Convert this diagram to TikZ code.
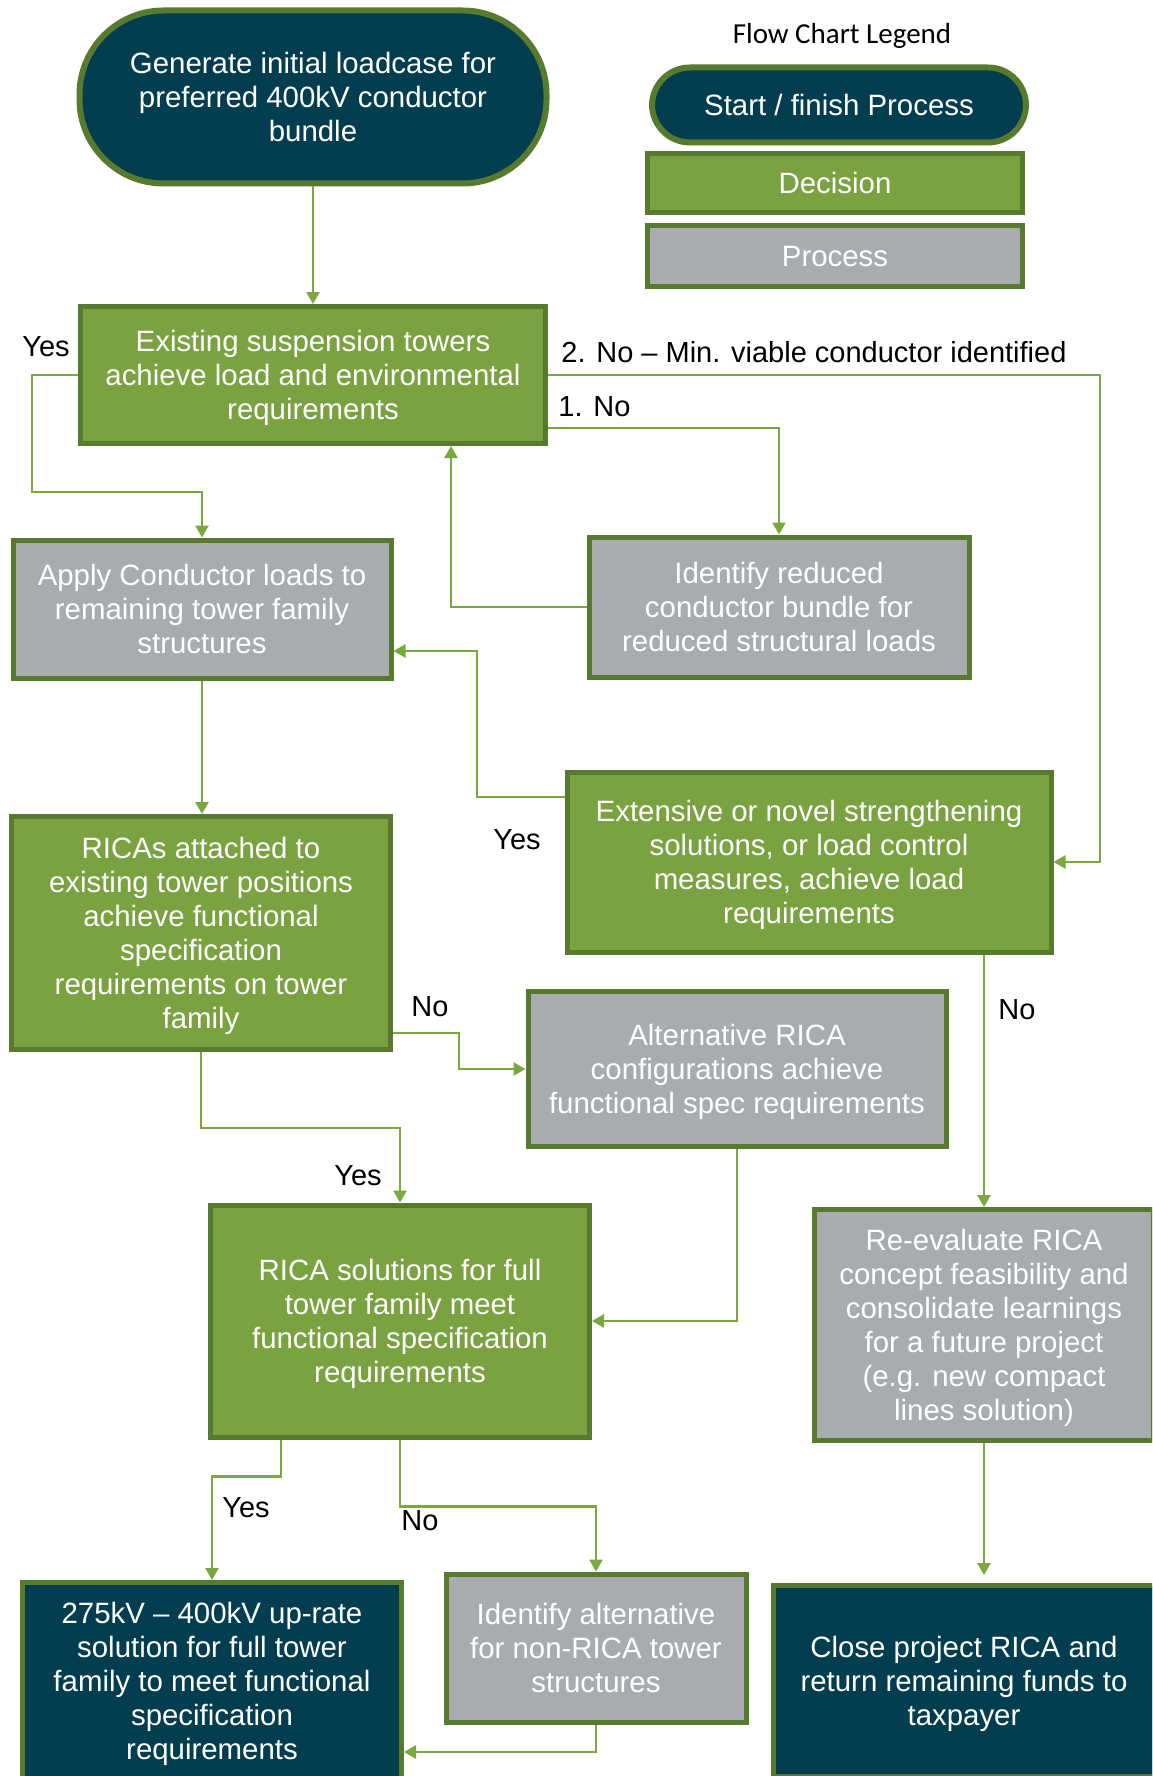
\documentclass[tikz,border=0pt]{standalone}
\usepackage{fontspec}
\setmainfont{Liberation Sans}
\newfontfamily\calibri{Carlito}
\usetikzlibrary{arrows.meta}
\definecolor{navy}{RGB}{3,62,80}
\definecolor{dgreen}{RGB}{122,162,64}
\definecolor{bgreen}{RGB}{88,122,46}
\definecolor{pgray}{RGB}{168,171,175}
\definecolor{lgreen}{RGB}{120,168,62}
\newcommand{\lnstrut}{\rule[-3.1pt]{0pt}{16.4pt}}
\begin{document}
\begin{tikzpicture}[x=0.5pt,y=-0.5pt,
  base/.style={draw=bgreen, line width=2.5pt, text=white, align=center, inner sep=0pt, font=\fontsize{14.7}{17}\selectfont},
  term/.style={base, fill=navy},
  dec/.style={base, fill=dgreen},
  proc/.style={base, fill=pgray},
  arr/.style={draw=lgreen, line width=1.2pt, -{Triangle[length=6pt,width=6.5pt]}},
  lbl/.style={font=\fontsize{14.5}{17}\selectfont, inner sep=0pt, text=black}
]
\useasboundingbox (0,0) rectangle (1152,1776);
\clip (0,0) rectangle (1152,1776);
\fill[white] (0,0) rectangle (1152,1776);

% legend
\node[font=\calibri\fontsize{14.5}{17}\selectfont, inner sep=0pt] (legtitle) at (842,36) {Flow Chart Legend};
\node[term, line width=3pt, rounded corners=19pt, minimum width=187pt, minimum height=37.5pt] (legterm) at (839,105) {\lnstrut Start / finish Process\lnstrut};
\node[dec, minimum width=187.5pt, minimum height=29.5pt] (legdec) at (835,183) {\lnstrut Decision\lnstrut};
\node[proc, minimum width=187.5pt, minimum height=30pt] (legproc) at (835,256) {\lnstrut Process\lnstrut};

% nodes
\node[term, line width=3pt, rounded corners=42pt, minimum width=233.5pt, minimum height=86.5pt] (start) at (313,97)
  {\lnstrut Generate initial loadcase for\\preferred 400kV conductor\\bundle\lnstrut};
\node[dec, minimum width=232.5pt, minimum height=68.5pt] (existing) at (313,375)
  {\lnstrut Existing suspension towers\\achieve load and environmental\\requirements\lnstrut};
\node[proc, minimum width=189pt, minimum height=69pt] (apply) at (202,609)
  {\lnstrut Apply Conductor loads to\\remaining tower family\\structures\lnstrut};
\node[proc, minimum width=190pt, minimum height=70pt] (idred) at (779,607)
  {\lnstrut Identify reduced\\conductor bundle for\\reduced structural loads\lnstrut};
\node[dec, minimum width=242pt, minimum height=90pt] (ext) at (809,862)
  {\lnstrut Extensive or novel strengthening\\solutions, or load control\\measures, achieve load\\requirements\lnstrut};
\node[dec, minimum width=189.5pt, minimum height=116.5pt] (ricas) at (201,933)
  {\lnstrut RICAs attached to\\existing tower positions\\achieve functional\\specification\\requirements on tower\\family\lnstrut};
\node[proc, minimum width=209pt, minimum height=77.5pt] (alt) at (737,1069)
  {\lnstrut Alternative RICA\\configurations achieve\\functional spec requirements\lnstrut};
\node[dec, minimum width=189.5pt, minimum height=116pt] (ricasol) at (400,1321)
  {\lnstrut RICA solutions for full\\tower family meet\\functional specification\\requirements\lnstrut};
\node[proc, minimum width=169.5pt, minimum height=115.5pt] (reeval) at (984,1325)
  {\lnstrut Re-evaluate RICA\\concept feasibility and\\consolidate learnings\\for a future project\\(e.g. new compact\\lines solution)\lnstrut};
\node[term, minimum width=189.5pt, minimum height=98.5pt] (upr) at (212,1681)
  {\lnstrut 275kV – 400kV up-rate\\solution for full tower\\family to meet functional\\specification\\requirements\lnstrut};
\node[proc, minimum width=150pt, minimum height=74pt] (idalt) at (596,1648)
  {\lnstrut Identify alternative\\for non-RICA tower\\structures\lnstrut};
\node[term, minimum width=190.5pt, minimum height=95.5pt] (close) at (964,1681)
  {\lnstrut Close project RICA and\\return remaining funds to\\taxpayer\lnstrut};

% helper coordinates
\coordinate (b1) at (451,0);
\coordinate (endc) at (984,1575);

% connectors
\draw[arr] (start) -- (existing);
\draw[arr] (existing.west) -| (32,492) -| (apply.north);
\draw[arr] (existing.east) -| (1100,862) -- (ext.east);
\draw[arr] ([yshift=9pt]existing.south east) -| (idred.north);
\draw[arr] (idred.west) -| (existing.south -| b1);
\draw[arr] (apply.south) -- (apply.south |- ricas.north);
\draw[arr] ([yshift=32.5pt]ext.west) -| (477,651) -- ([yshift=-21pt]apply.east);
\draw[arr] (ext.south -| reeval.north) -- (reeval.north);
\draw[arr] ([yshift=-50pt]ricas.east) -| (459,1069) -- (alt.west);
\draw[arr] (ricas.south) -- ++(0,76) -| (ricasol.north);
\draw[arr] (alt.south) |- (ricasol.east);
\draw[arr] ([xshift=-59.5pt]ricasol.south) -- ++(0,37) -| (upr.north);
\draw[arr] (ricasol.south) -- ++(0,67) -| (idalt.north);
\draw[arr] (idalt.south) |- ([yshift=-35.5pt]upr.east);
\draw[arr] (reeval.south) -- (endc);

% labels
\node[lbl] (lyes1) at (46,347) {Yes};
\node[lbl, anchor=west] (l2no) at (561,352) {2. No – Min. viable conductor identified};
\node[lbl, anchor=west] (l1no) at (558,407) {1. No};
\node[lbl] (lyes2) at (517,840) {Yes};
\node[lbl] (lno3) at (1017,1010) {No};
\node[lbl] (lno4) at (430,1007) {No};
\node[lbl] (lyes3) at (358,1176) {Yes};
\node[lbl] (lyes4) at (246,1508) {Yes};
\node[lbl] (lno5) at (420,1521) {No};
\end{tikzpicture}
\end{document}
